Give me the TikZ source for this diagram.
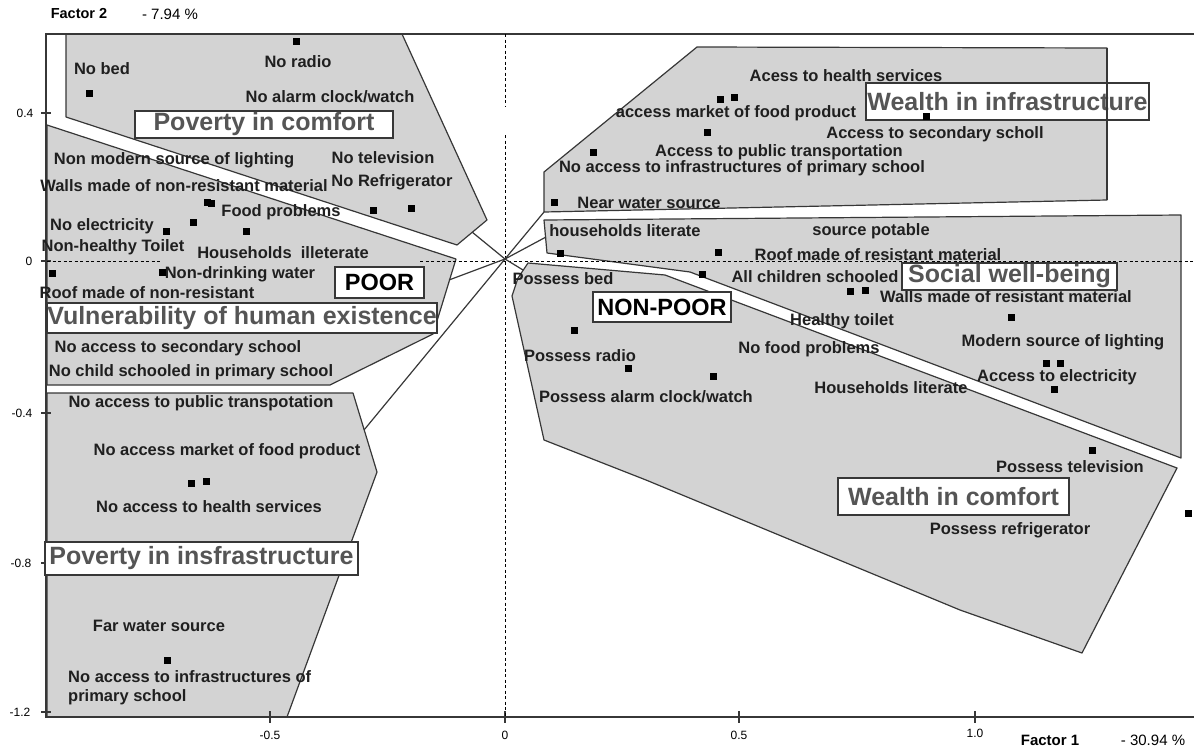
\documentclass[tikz,border=0pt]{standalone}
\usepackage{fontspec}
\setmainfont{Liberation Sans}
\definecolor{zonegray}{RGB}{211,211,211}
\definecolor{rim}{RGB}{55,55,55}
\definecolor{tagtext}{RGB}{85,85,85}

\begin{document}
\begin{tikzpicture}[x=1pt,y=-1pt,
  zone/.style={fill=zonegray,draw=rim,line width=1.2pt,line join=round},
  rimline/.style={draw=rim,line width=1.2pt},
  axisline/.style={draw=rim,line width=1.4pt},
  axisdot/.style={draw=black,line width=1pt,dash pattern=on 3pt off 2.5pt},
  lbl/.style={inner sep=0pt,text=black!88,font=\fontsize{16.5}{19}\selectfont\bfseries},
  tag/.style={draw=rim,fill=white,line width=1.3pt,inner sep=0pt,text=tagtext,
    font=\fontsize{25}{28}\selectfont\bfseries},
  group/.style={tag,text=black,font=\fontsize{23.5}{26}\selectfont\bfseries},
  ticklbl/.style={inner sep=0pt,font=\fontsize{12}{14}\selectfont},
  sq/.style={fill=black,inner sep=0pt,minimum size=7pt,rectangle}]

\useasboundingbox (0,0) rectangle (1194,750);

% zones of the plane
\draw[zone] (66,34) -- (402,34) -- (487,220) -- (457,245) -- (66,117) -- cycle;
\draw[zone] (47,125) -- (456,259) -- (433,334) -- (330,385) -- (47,385) -- cycle;
\draw[zone] (47,393) -- (353,393) -- (377,472) -- (287,717) -- (47,717) -- cycle;
\draw[zone] (697,47) -- (1107,48) -- (1107,200) -- (544,212) -- (544,172) -- cycle;
\draw[zone] (544,220) -- (1181,215) -- (1181,458) -- (690,272) -- (547,253) -- cycle;
\draw[zone] (528,263) -- (665,275) -- (1177,468) -- (1082,653) -- (960,610)
  -- (646,480) -- (544,440) -- (512,296) -- (518,278) -- cycle;

% axes
\draw[axisline] (45,34) -- (1194,34);
\draw[axisline] (46,34) -- (46,717) -- (1194,717);
\foreach \y in {113,261,413,563,712}
  \draw[axisline] (41,\y) -- (51,\y);
\foreach \x in {270,505,739,975}
  \draw[axisline] (\x,711) -- (\x,723);
\draw[axisdot] (505,34) -- (505,107);
\draw[axisdot] (505,135) -- (505,717);
\draw[axisdot] (47,261) -- (160,261);
\draw[axisdot] (420,261) -- (1194,261);

% star from the origin
\coordinate (c) at (505,259);
\coordinate (e1) at (472,232);
\coordinate (e2) at (449,280);
\coordinate (e3) at (364,430);
\coordinate (e4) at (544,212);
\coordinate (e5) at (546,237);
\coordinate (e6) at (523,270);
\foreach \e in {e1,e2,e3,e4,e5,e6}
  \draw[rimline] (c) -- (\e);

% axis texts
\node[ticklbl] (y1) at (25,113) {0.4};
\node[ticklbl] (y2) at (29,261) {0};
\node[ticklbl] (y3) at (22,413) {-0.4};
\node[ticklbl] (y4) at (21,563) {-0.8};
\node[ticklbl] (y5) at (20,712) {-1.2};
\node[ticklbl] (x1) at (270,735) {-0.5};
\node[ticklbl] (x2) at (505,735) {0};
\node[ticklbl] (x3) at (739,735) {0.5};
\node[ticklbl] (x4) at (975,733) {1.0};
\node[ticklbl,font=\fontsize{14.5}{16}\selectfont\bfseries] (f2) at (79,14) {Factor 2};
\node[ticklbl,font=\fontsize{15}{16}\selectfont] (f2v) at (170,14) {- 7.94 \%};
\node[ticklbl,font=\fontsize{15}{16}\selectfont\bfseries] (f1) at (1050,740) {Factor 1};
\node[ticklbl,font=\fontsize{15}{16}\selectfont] (f1v) at (1153,740) {- 30.94 \%};

% poor side
\node[lbl] (nobed) at (102,69) {No bed};
\node[lbl] (noradio) at (298,62) {No radio};
\node[lbl] (noclock) at (330,97) {No alarm clock/watch};
\node[lbl] (nolight) at (174,160) {Non modern source of lighting};
\node[lbl] (nowalls) at (184,186) {Walls made of non-resistant material};
\node[lbl] (notv) at (383,158) {No television};
\node[lbl] (nofridge) at (392,182) {No Refrigerator};
\node[lbl] (food) at (281,212) {Food problems};
\node[lbl] (noelec) at (102,226) {No electricity};
\node[lbl] (notoilet) at (113,247) {Non-healthy Toilet};
\node[lbl] (illit) at (283,253) {Households\ \ illeterate};
\node[lbl] (nodrink) at (240,274) {Non-drinking water};
\node[lbl] (noroof) at (147,293) {Roof made of non-resistant};
\node[lbl] (nosec) at (178,348) {No access to secondary school};
\node[lbl] (nochild) at (191,372) {No child schooled in primary school};
\node[lbl] (notrans) at (201,403) {No access to public transpotation};
\node[lbl] (nomarket) at (227,451) {No access market of food product};
\node[lbl] (nohealth) at (209,507) {No access to health services};
\node[lbl] (farwater) at (159,626) {Far water source};
\node[lbl,align=left,anchor=west] (noprim) at (68,688)
  {No access to infrastructures of\\primary school};

% non-poor side
\node[lbl] (health) at (846,76) {Acess to health services};
\node[lbl] (market) at (736,113) {access market of food product};
\node[lbl] (second) at (935,134) {Access to secondary scholl};
\node[lbl] (trans) at (779,152) {Access to public transportation};
\node[lbl] (prim) at (742,168) {No access to infrastructures of primary school};
\node[lbl] (nearwater) at (649,203) {Near water source};
\node[lbl] (hlit) at (625,231) {households literate};
\node[lbl] (potable) at (871,231) {source potable};
\node[lbl] (roof) at (878,255) {Roof made of resistant material};
\node[lbl] (bed) at (563,279) {Possess bed};
\node[lbl] (children) at (815,277) {All children schooled};
\node[lbl] (walls) at (1006,297) {Walls made of resistant material};
\node[lbl] (toilet) at (842,321) {Healthy toilet};
\node[lbl] (light) at (1063,342) {Modern source of lighting};
\node[lbl] (radio) at (580,356) {Possess radio};
\node[lbl] (nofood) at (809,349) {No food problems};
\node[lbl] (elec) at (1057,377) {Access to electricity};
\node[lbl] (lit) at (891,388) {Households literate};
\node[lbl] (clock) at (646,397) {Possess alarm clock/watch};
\node[lbl] (tv) at (1070,467) {Possess television};
\node[lbl] (fridge) at (1010,530) {Possess refrigerator};

% zone names
\node[tag,minimum width=258pt,minimum height=27pt] (comfortp) at (264,124.5) {Poverty in comfort};
\node[tag,minimum width=390pt,minimum height=30pt] (vuln) at (242,318) {Vulnerability of human existence};
\node[tag,minimum width=313pt,minimum height=33pt] (infrap) at (201.5,558.5) {Poverty in insfrastructure};
\node[tag,minimum width=283pt,minimum height=37pt] (infraw) at (1007.5,101.5) {Wealth in infrastructure};
\node[tag,minimum width=215pt,minimum height=27pt] (social) at (1009.5,276.5) {Social well-being};
\node[tag,minimum width=231pt,minimum height=37pt] (comfortw) at (953.5,496.5) {Wealth in comfort};
\node[group,minimum width=89pt,minimum height=31pt] (poor) at (379.5,282.5) {POOR};
\node[group,minimum width=138pt,minimum height=30pt] (nonpoor) at (662,307) {NON-POOR};
\draw[rimline] (1107,48) -- (1107,200);

% points
\foreach \x/\y [count=\i] in {296/41,89/93,207/202,211/203,193/222,166/231,
    246/231,373/210,411/208,52/273,162/272,191/483,206/481,167/660,
    720/99,734/97,707/132,593/152,554/202,926/116,560/253,718/252,
    702/274,850/291,865/290,1011/317,574/330,628/368,713/376,
    1046/363,1060/363,1054/389,1092/450,1188/513}
  \node[sq] (pt\i) at (\x,\y) {};

\end{tikzpicture}
\end{document}
